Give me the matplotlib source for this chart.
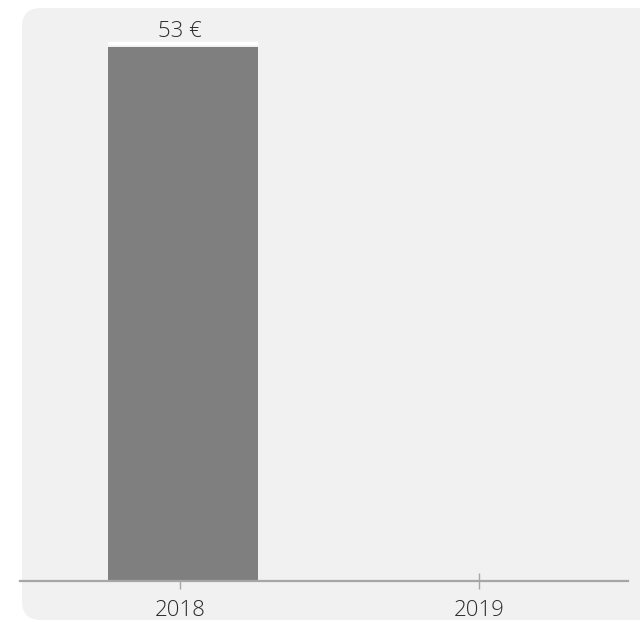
import numpy as np
import matplotlib.pyplot as plt
from matplotlib.patches import FancyBboxPatch
import matplotlib.transforms as mtransforms

years = ['2018', '2019']
values = [53, None]
labels = ['53 €', '']

plt.rcParams['font.family'] = ['Open Sans', 'DejaVu Sans']

fig = plt.figure(figsize=(6.4, 6.22), dpi=100)
fig.patch.set_facecolor('white')

# rounded grey panel behind the chart
panel = FancyBboxPatch((22 / 640, 2 / 622), 640 / 640, 612 / 622,
                       boxstyle='round,pad=0,rounding_size=0.03',
                       transform=fig.transFigure, facecolor='#f1f1f1',
                       edgecolor='none', zorder=-5)
fig.patches.append(panel)

ax = fig.add_axes([20 / 640, 41 / 622, 608 / 640, 571 / 622])
ax.set_facecolor('none')
ax.set_zorder(5)

x = np.arange(len(years))
vals = np.array([v if v is not None else 0 for v in values], dtype=float)
bars = ax.bar(x + 0.01, vals, width=0.5, color='#7f7f7f', zorder=2)

# thin white line over the bar top and the value label
offs = mtransforms.offset_copy(ax.transData, fig=fig, x=0, y=4, units='dots')
for xi, v, lab in zip(x, values, labels):
    if v is None:
        continue
    ax.hlines(v, xi + 0.01 - 0.25, xi + 0.01 + 0.25, colors='white',
              linewidth=2.5, transform=offs, zorder=3)
    ax.annotate(lab, (xi, v), xytext=(0, 4), textcoords='offset points',
                ha='center', va='bottom', fontsize=16, color='#2b2b2b',
                fontweight='light')

ax.set_xlim(-0.535, 1.498)
ax.set_ylim(0, 56.7)
ax.set_xticks(x)
ax.set_xticklabels(years, fontsize=16, color='#2b2b2b', fontweight='light')
ax.set_yticks([])
for s in ['top', 'right', 'left']:
    ax.spines[s].set_visible(False)
ax.spines['bottom'].set_color('#a6a6a6')
ax.spines['bottom'].set_linewidth(1.6)
ax.tick_params(axis='x', direction='inout', length=11, width=1,
               color='#a6a6a6', pad=8.5)

fig.savefig('out.png', dpi=100, facecolor=fig.get_facecolor())
